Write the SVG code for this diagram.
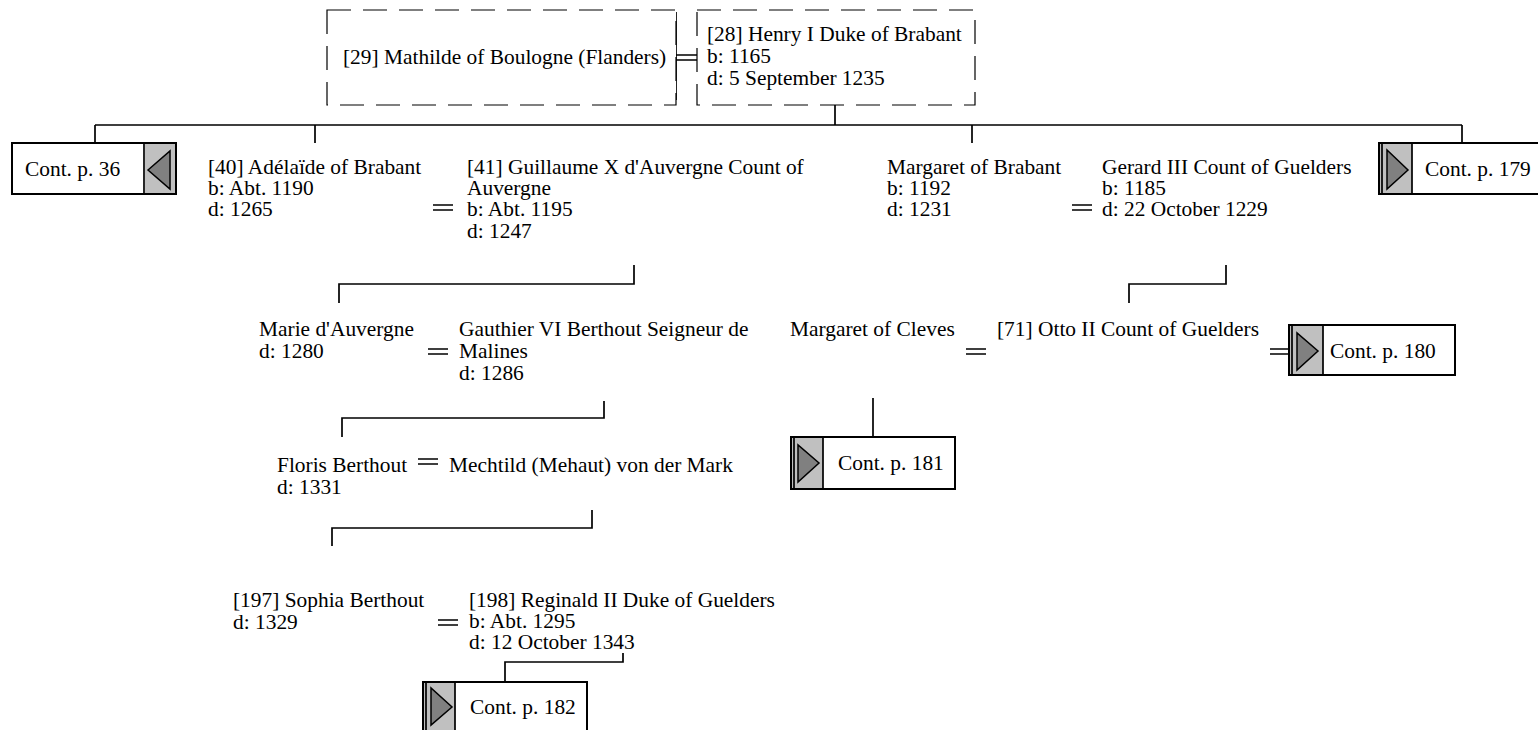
<svg xmlns="http://www.w3.org/2000/svg" width="1538" height="730" viewBox="0 0 1538 730">
<style>
text{font-family:"Liberation Serif","Times New Roman",serif;font-size:21.4px;fill:#000}
.ln{stroke:#000;stroke-width:1.7;fill:none}
.eq{stroke:#000;stroke-width:1.6}
.dash{fill:#fff;stroke:#000;stroke-width:1.2;stroke-dasharray:24 12}
.cb{fill:#fff;stroke:#000;stroke-width:2}
.gr{fill:#c0c0c0;stroke:none}
.tri{fill:#808080;stroke:#000;stroke-width:1.5}
</style>
<rect width="1538" height="730" fill="#fff"/>
<g id="connectors">
<path class="ln" d="M835 105V125M95 125H1462M95 125V143M315 125V143M972 125V143M1462 125V143"/>
<path class="ln" d="M634 265V284H339V303"/>
<path class="ln" d="M1226 265V284H1129V303"/>
<path class="ln" d="M604 401V418H342V437"/>
<path class="ln" d="M873 398V437"/>
<path class="ln" d="M592 510V528H332V546"/>
<path class="ln" d="M623 653V662H505V682"/>
<path class="ln" d="M676 12V100"/>
<path class="eq" d="M676 55H697M676 60H697"/>
<path class="eq" d="M433 205H453M433 210H453"/>
<path class="eq" d="M1072 205H1092M1072 210H1092"/>
<path class="eq" d="M428 349H448M428 354H448"/>
<path class="eq" d="M966 349H986M966 354H986"/>
<path class="eq" d="M1270 349H1289M1270 354H1289"/>
<path class="eq" d="M418 459H438M418 464H438"/>
<path class="eq" d="M438 620H458M438 625H458"/>
</g>
<g id="n29"><rect class="dash" x="327" y="10" width="349" height="95"/><text x="343" y="64">[29] Mathilde of Boulogne (Flanders)</text></g>
<g id="n28"><rect class="dash" x="697" y="10" width="278" height="95"/><text x="707" y="41">[28] Henry I Duke of Brabant</text><text x="707" y="63">b: 1165</text><text x="707" y="85">d: 5 September 1235</text></g>
<g id="c36"><rect class="cb" x="12" y="143" width="164" height="51"/><rect class="gr" x="145" y="144" width="30" height="49"/><path class="ln" d="M144 144V193"/><polygon class="tri" points="148,170 170,151 170,189"/><text x="25" y="176">Cont. p. 36</text></g>
<g id="n40"><text x="208" y="174">[40] Adélaïde of Brabant</text><text x="208" y="195">b: Abt. 1190</text><text x="208" y="216">d: 1265</text></g>
<g id="n41"><text x="467" y="174">[41] Guillaume X d'Auvergne Count of</text><text x="467" y="195">Auvergne</text><text x="467" y="216">b: Abt. 1195</text><text x="467" y="238">d: 1247</text></g>
<g id="nmb"><text x="887" y="174">Margaret of Brabant</text><text x="887" y="195">b: 1192</text><text x="887" y="216">d: 1231</text></g>
<g id="ng3"><text x="1102" y="174">Gerard III Count of Guelders</text><text x="1102" y="195">b: 1185</text><text x="1102" y="216">d: 22 October 1229</text></g>
<g id="c179"><rect class="cb" x="1379" y="143" width="170" height="51"/><rect class="gr" x="1380" y="144" width="32" height="49"/><path class="ln" d="M1412 144V193M1382 144V193"/><polygon class="tri" points="1387,150 1387,189 1408,170"/><text x="1425" y="176">Cont. p. 179</text></g>
<g id="nmd"><text x="259" y="336">Marie d'Auvergne</text><text x="259" y="358">d: 1280</text></g>
<g id="ngb"><text x="459" y="336">Gauthier VI Berthout Seigneur de</text><text x="459" y="358">Malines</text><text x="459" y="380">d: 1286</text></g>
<g id="nmc"><text x="790" y="336">Margaret of Cleves</text></g>
<g id="n71"><text x="997" y="336">[71] Otto II Count of Guelders</text></g>
<g id="c180"><rect class="cb" x="1289" y="325" width="166" height="50"/><rect class="gr" x="1290" y="326" width="33" height="48"/><path class="ln" d="M1323 326V374M1292 326V374"/><polygon class="tri" points="1297,333 1297,370 1318,351"/><text x="1330" y="358">Cont. p. 180</text></g>
<g id="c181"><rect class="cb" x="791" y="437" width="164" height="52"/><rect class="gr" x="792" y="438" width="31" height="50"/><path class="ln" d="M823 438V488M794 438V488"/><polygon class="tri" points="798,445 798,482 819,463"/><text x="838" y="470">Cont. p. 181</text></g>
<g id="nfb"><text x="277" y="472">Floris Berthout</text><text x="277" y="494">d: 1331</text></g>
<g id="nmm"><text x="449" y="472">Mechtild (Mehaut) von der Mark</text></g>
<g id="n197"><text x="233" y="607">[197] Sophia Berthout</text><text x="233" y="629">d: 1329</text></g>
<g id="n198"><text x="469" y="607">[198] Reginald II Duke of Guelders</text><text x="469" y="628">b: Abt. 1295</text><text x="469" y="649">d: 12 October 1343</text></g>
<g id="c182"><rect class="cb" x="423" y="682" width="164" height="60"/><rect class="gr" x="424" y="683" width="31" height="58"/><path class="ln" d="M455 683V741M426 683V741"/><polygon class="tri" points="431,688 431,725 452,707"/><text x="470" y="714">Cont. p. 182</text></g>
</svg>
